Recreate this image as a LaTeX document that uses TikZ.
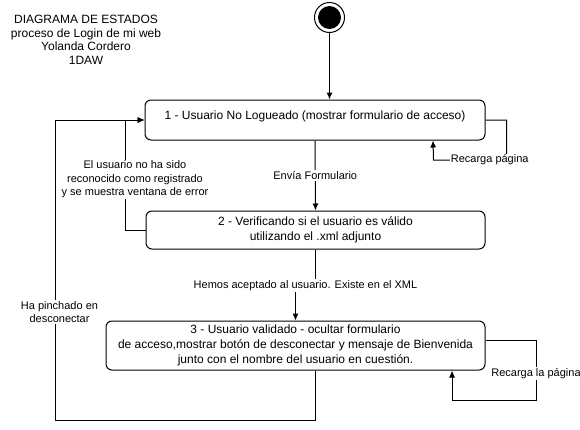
\documentclass[tikz,border=0pt]{standalone}
\usepackage{fontspec}
\setmainfont{Liberation Sans}
\usetikzlibrary{arrows.meta}
\tikzset{
  estado/.style={draw,line width=1pt,rounded corners=6pt,align=center,font=\fontsize{12}{15}\selectfont,inner ysep=0pt},
  etiq/.style={fill=white,align=center,font=\fontsize{11}{13.5}\selectfont,inner sep=1pt},
}
\begin{document}
\begin{tikzpicture}[x=1pt,y=-1pt,>={Latex[length=7pt,width=6pt]},line width=1pt]
\useasboundingbox (0,0) rectangle (580,429);
% titulo
\node[align=center,font=\fontsize{12}{13.5}\selectfont] (titulo) at (86,40) {DIAGRAMA DE ESTADOS\\proceso de Login de mi web\\Yolanda Cordero\\1DAW};
% estado inicial
\node[circle,draw,minimum size=30pt,inner sep=0pt] (inicio) at (329.5,17.5) {};
\fill (inicio.center) circle[radius=11.5pt];
% estados
\node[estado,minimum width=340pt,text height=19.5pt,text depth=20.5pt] (s1) at (315,120) {1 - Usuario No Logueado (mostrar formulario de acceso)};
\node[estado,minimum width=339pt,minimum height=38pt] (s2) at (315.5,230) {2 - Verificando si el usuario es válido\\utilizando el .xml adjunto};
\node[estado,minimum width=379pt,minimum height=49pt] (s3) at (295.5,345.5) {3 - Usuario validado - ocultar formulario\\de acceso,mostrar botón de desconectar y mensaje de Bienvenida\\junto con el nombre del usuario en cuestión.};
% transiciones
\draw[->] (inicio.south) -- (inicio.south |- s1.north);
\draw[->] (s1.south) -- node[etiq]{Envía Formulario} (s2.north);
\draw[->] (s1.east) -- ++(21,0) -- ++(0,40) -- node[etiq,pos=.23]{Recarga página} ++(-73,0) -- ([xshift=118pt]s1.south);
\draw[->] (s2.west) -- ++(-20,0) |- node[etiq,pos=.23,xshift=9.5pt]{El usuario no ha sido\\reconocido como registrado\\y se muestra ventana de error} (s1.west);
\draw[->] (s2.south) -- ++(0,36) -| node[etiq,pos=.25]{Hemos aceptado al usuario. Existe en el XML} (s3.north);
\draw[->] ([xshift=19.5pt]s3.south) |- (55,420) |- node[etiq,pos=.18,xshift=4.5pt]{Ha pinchado en\\desconectar} (s1.west);
\draw[->] ([yshift=5.5pt]s3.east) -| node[etiq,pos=.78]{Recarga la página} ++(50.5,60) -| ([xshift=156.5pt]s3.south);
\end{tikzpicture}
\end{document}
